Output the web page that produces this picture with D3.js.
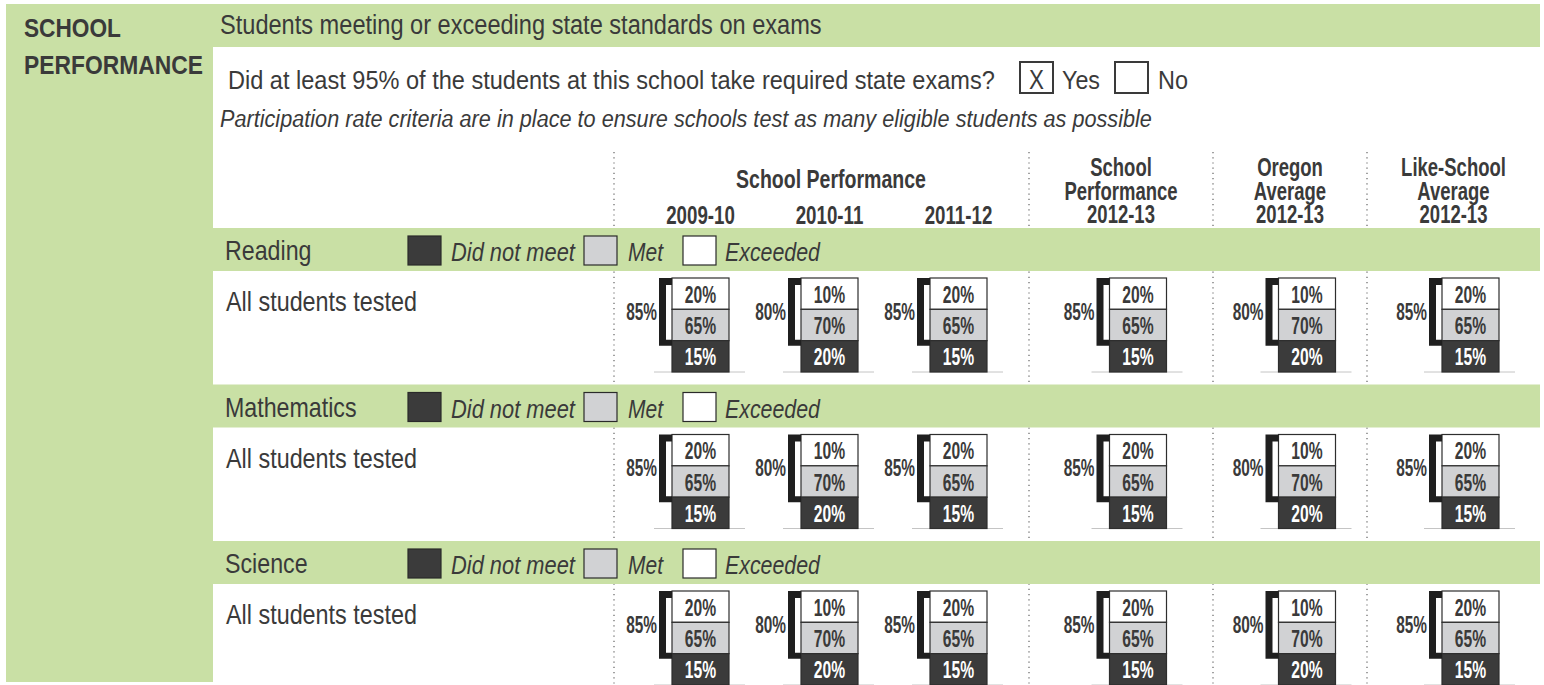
<!DOCTYPE html>
<html>
<head>
<meta charset="utf-8">
<script src="https://cdn.jsdelivr.net/npm/d3@7"></script>
<style>
  body { margin: 0; background: #fff; }
  svg text { font-family: "Liberation Sans", Arial, Helvetica, sans-serif; fill: #3a3a3a; }
</style>
</head>
<body>
<div id="chart"></div>
<script>
// ---- data ----
const subjects = ['Reading', 'Mathematics', 'Science'];
const columns = ['2009-10', '2010-11', '2011-12', 'School 2012-13', 'Oregon 2012-13', 'Like-School 2012-13'];
const trendYears = ['2009-10', '2010-11', '2011-12'];
const compareHeaders = [
  ['School', 'Performance', '2012-13'],
  ['Oregon', 'Average', '2012-13'],
  ['Like-School', 'Average', '2012-13']
];
const levels = ['Exceeded', 'Met', 'Did not meet'];

const readingDidNotMeet = [15, 20, 15, 15, 20, 15];
const readingMet = [65, 70, 65, 65, 70, 65];
const readingExceeded = [20, 10, 20, 20, 10, 20];

const mathDidNotMeet = [15, 20, 15, 15, 20, 15];
const mathMet = [65, 70, 65, 65, 70, 65];
const mathExceeded = [20, 10, 20, 20, 10, 20];

const scienceDidNotMeet = [15, 20, 15, 15, 20, 15];
const scienceMet = [65, 70, 65, 65, 70, 65];
const scienceExceeded = [20, 10, 20, 20, 10, 20];

const seriesBySubject = {
  Reading: { 'Did not meet': readingDidNotMeet, Met: readingMet, Exceeded: readingExceeded },
  Mathematics: { 'Did not meet': mathDidNotMeet, Met: mathMet, Exceeded: mathExceeded },
  Science: { 'Did not meet': scienceDidNotMeet, Met: scienceMet, Exceeded: scienceExceeded }
};

// ---- layout ----
const W = 1544, H = 685;
const green = '#c9e0a5';
const ink = '#3a3a3a';
const fills = { 'Did not meet': '#3b3b3b', Met: '#d1d2d4', Exceeded: '#ffffff' };
const labelInk = { 'Did not meet': '#ffffff', Met: '#3a3a3a', Exceeded: '#3a3a3a' };

const separators = [614, 1029, 1213, 1367, 1540];
const barW = 57, barH = 94, bandH = 43;

const svg = d3.select('#chart').append('svg')
  .attr('width', W).attr('height', H);

// the source uses a condensed face: texts are drawn at the origin and
// squeezed horizontally with a scale transform
function place(node, x, y, f) {
  d3.select(node).attr('x', 0).attr('y', 0)
    .attr('transform', `translate(${x},${y}) scale(${f},1)`);
}
function label(g, str, x, y, size, opts = {}) {
  const t = g.append('text')
    .style('font-size', size + 'px')
    .style('font-weight', opts.bold ? 'bold' : 'normal')
    .style('font-style', opts.italic ? 'italic' : 'normal')
    .attr('text-anchor', opts.anchor || 'start')
    .text(str);
  if (opts.fill) t.style('fill', opts.fill);
  const node = t.node();
  const f = opts.width ? opts.width / node.getComputedTextLength() : (opts.squeeze || 1);
  place(node, x, y, f);
  return t;
}

// x positions of bar centres
const trendX = d3.scaleBand().domain(trendYears).range([636, 1023]);
const colX = columns.map((c, i) => i < 3
  ? trendX(trendYears[i]) + trendX.bandwidth() / 2
  : (separators[i - 2] + separators[i - 1]) / 2 + 17);

// rows
const rowY = d3.scaleBand().domain(subjects).range([228, 228 + 3 * 156.5]);
const segY = d3.scaleBand().domain(levels).range([0, barH]);

// ---- background panels ----
svg.append('rect').attr('x', 6).attr('y', 4).attr('width', 207).attr('height', 678).attr('fill', green);
svg.append('rect').attr('x', 213).attr('y', 4).attr('width', separators[4] - 213).attr('height', 43).attr('fill', green);

// dotted column separators
svg.append('g').selectAll('line').data(separators.slice(0, 4)).join('line')
  .attr('x1', d => d).attr('x2', d => d)
  .attr('y1', 152).attr('y2', H)
  .attr('stroke', '#7a7a7a').attr('stroke-width', 1.4)
  .attr('stroke-dasharray', '1.2,4');

// ---- header text ----
const head = svg.append('g');
label(head, 'SCHOOL', 24, 37, 26, { bold: true, width: 97 });
label(head, 'PERFORMANCE', 24, 74, 26, { bold: true, width: 179 });
label(head, 'Students meeting or exceeding state standards on exams', 220, 34, 28, { width: 602 });
label(head, 'Did at least 95% of the students at this school take required state exams?', 228, 89, 26, { width: 767 });

head.append('rect').attr('x', 1020).attr('y', 62).attr('width', 33).attr('height', 31)
  .attr('fill', '#fff').attr('stroke', ink).attr('stroke-width', 2);
label(head, 'X', 1036.5, 89, 28, { anchor: 'middle', squeeze: 0.8 });
label(head, 'Yes', 1062, 89, 26, { width: 38 });
head.append('rect').attr('x', 1115).attr('y', 62).attr('width', 33).attr('height', 31)
  .attr('fill', '#fff').attr('stroke', ink).attr('stroke-width', 2);
label(head, 'No', 1158, 89, 26, { width: 30 });

label(head, 'Participation rate criteria are in place to ensure schools test as many eligible students as possible',
  220, 127, 24, { italic: true, width: 932 });

label(head, 'School Performance', 831, 188, 26, { bold: true, anchor: 'middle', width: 190 });
trendYears.forEach((yr, i) => label(head, yr, colX[i], 224, 26, { bold: true, anchor: 'middle', squeeze: 0.72 }));
compareHeaders.forEach((lines, i) => {
  const cx = (separators[i + 1] + separators[i + 2]) / 2;
  lines.forEach((ln, j) => label(head, ln, cx, 176 + j * 23.5, 25, { bold: true, anchor: 'middle', squeeze: 0.74 }));
});

// ---- subject rows ----
subjects.forEach(subject => {
  const top = rowY(subject);
  const g = svg.append('g').attr('transform', `translate(0,${top})`);
  const series = seriesBySubject[subject];

  g.append('rect').attr('x', 211).attr('y', 0).attr('width', separators[4] - 211).attr('height', bandH).attr('fill', green);
  label(g, subject, 225, 32, 27, { squeeze: 0.86 });

  // legend
  const legendX = [408, 584, 683];
  const legendText = [['Did not meet', 451, 124], ['Met', 628, 35], ['Exceeded', 725, 95]];
  ['Did not meet', 'Met', 'Exceeded'].forEach((lv, i) => {
    g.append('rect').attr('x', legendX[i]).attr('y', 8).attr('width', 33).attr('height', 29)
      .attr('fill', fills[lv]).attr('stroke', '#2a2a2a').attr('stroke-width', 1.2);
    label(g, legendText[i][0], legendText[i][1], 33, 25, { italic: true, width: legendText[i][2] });
  });

  label(g, 'All students tested', 226, 83, 28, { width: 191 });

  // bars
  const barTop = 50;
  const cols = g.selectAll('g.col').data(columns).join('g').attr('class', 'col')
    .attr('transform', (d, i) => `translate(${colX[i] - barW / 2},${barTop})`);

  cols.append('line')
    .attr('x1', -18).attr('x2', barW + 16)
    .attr('y1', barH).attr('y2', barH)
    .attr('stroke', '#c4c4c4').attr('stroke-width', 1);

  levels.forEach(lv => {
    cols.append('rect')
      .attr('x', 0).attr('y', segY(lv))
      .attr('width', barW).attr('height', segY.bandwidth())
      .attr('fill', fills[lv]).attr('stroke', '#2e2e2e').attr('stroke-width', 1.2);
    cols.append('text')
      .attr('text-anchor', 'middle')
      .style('font-size', '23px').style('font-weight', 'bold')
      .style('fill', labelInk[lv])
      .text((d, i) => series[lv][i] + '%')
      .each(function () { place(this, barW / 2, segY(lv) + segY.bandwidth() / 2 + 9, 0.68); });
  });

  // bracket spanning Met + Exceeded
  const y1 = segY('Met') + segY.bandwidth() + 5;
  cols.append('path')
    .attr('d', `M0,0 H-13 V${y1} H0 V${y1 - 6} H-6 V7 H0 Z`)
    .attr('fill', '#1f1f1f');
  cols.append('text')
    .attr('text-anchor', 'end')
    .style('font-size', '23px').style('font-weight', 'bold')
    .text((d, i) => (series.Met[i] + series.Exceeded[i]) + '%')
    .each(function () { place(this, -15, y1 / 2 + 8, 0.67); });
});
</script>
</body>
</html>
